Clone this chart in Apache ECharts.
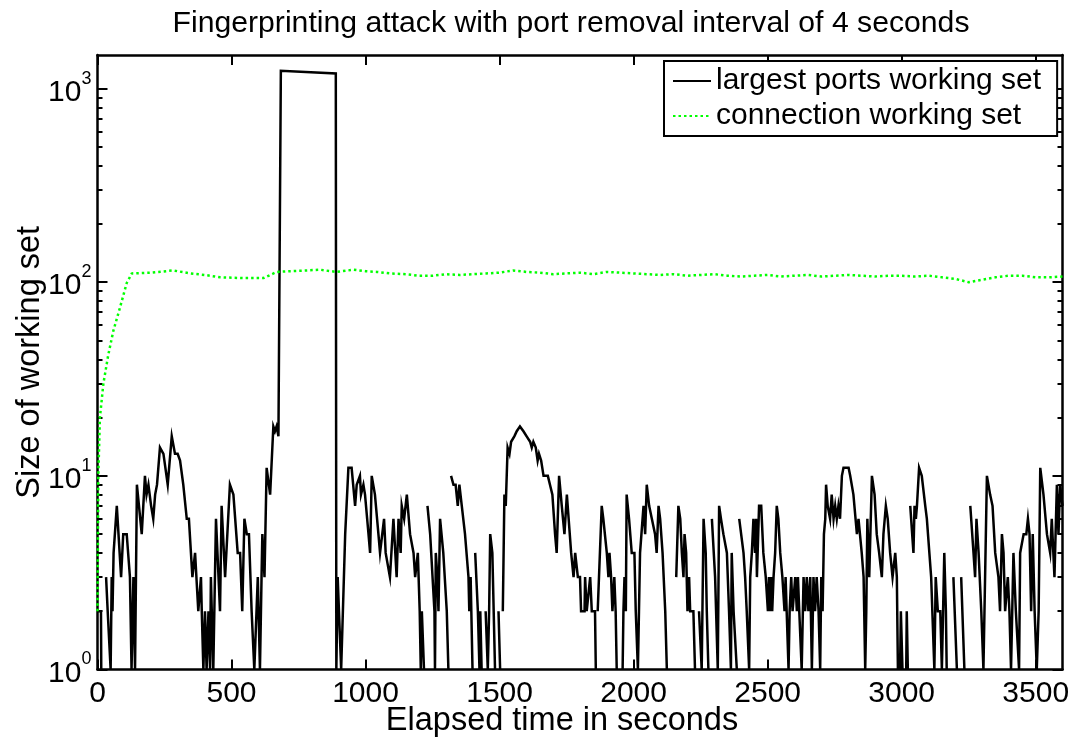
<!DOCTYPE html>
<html>
<head>
<meta charset="utf-8">
<script src="https://cdn.jsdelivr.net/npm/echarts@6/dist/echarts.min.js"></script>
<style>
  html, body { margin: 0; padding: 0; background: #fff; }
  #chart { width: 1076px; height: 742px; }
</style>
</head>
<body>
<div id="chart"></div>
<script>
// Working-set sizes over one hour of a fingerprinting attack (4 s port removal).
const FONT = '"Liberation Sans", Arial, Helvetica, sans-serif';

const titleText = 'Fingerprinting attack with port removal interval of 4 seconds';
const xName = 'Elapsed time in seconds';
const yName = 'Size of working set';
const seriesNames = ['largest ports working set', 'connection working set'];

// x ticks (seconds) and y decades
const xTicks = [0, 500, 1000, 1500, 2000, 2500, 3000, 3500];
const yDecades = [1, 10, 100, 1000];
const yMinor = [2, 3, 4, 5, 6, 7, 8, 9, 20, 30, 40, 50, 60, 70, 80, 90, 200, 300, 400, 500, 600, 700, 800, 900];

// largest ports working set: sample times (s) and sizes (0 = empty set)
const portsTime = [
  0, 13, 14, 17, 32, 38, 45, 49, 53, 56, 60, 72, 88, 96, 109, 121, 127, 134, 140, 147,
  165, 177, 183, 190, 200, 208, 215, 222, 233, 246, 262, 277, 289, 299, 308, 320, 333, 341, 354, 364,
  376, 386, 389, 395, 401, 407, 414, 420, 423, 432, 442, 457, 463, 476, 482, 494, 507, 523, 532, 540,
  548, 557, 565, 575, 585, 598, 606, 612, 615, 619, 623, 631, 644, 656, 662, 668, 675, 680, 684, 889,
  891, 896, 901, 909, 914, 924, 930, 936, 948, 961, 967, 979, 983, 992, 998, 1011, 1017, 1023, 1035, 1048,
  1054, 1060, 1069, 1075, 1091, 1104, 1116, 1123, 1131, 1135, 1144, 1154, 1166, 1179, 1185, 1195, 1202, 1206, 1210, 1215,
  1218, 1222, 1231, 1241, 1257, 1259, 1262, 1268, 1272, 1278, 1290, 1303, 1309, 1313, 1319, 1328, 1336, 1344, 1350, 1359,
  1371, 1384, 1387, 1392, 1399, 1403, 1409, 1419, 1425, 1428, 1433, 1440, 1448, 1456, 1461, 1465, 1473, 1483, 1489, 1496,
  1502, 1507, 1512, 1518, 1523, 1530, 1537, 1543, 1548, 1555, 1564, 1576, 1589, 1601, 1614, 1620, 1626, 1635, 1642, 1647,
  1655, 1664, 1672, 1680, 1688, 1697, 1707, 1713, 1722, 1732, 1742, 1751, 1757, 1767, 1776, 1782, 1788, 1792, 1800, 1804,
  1817, 1819, 1825, 1831, 1838, 1844, 1856, 1859, 1863, 1866, 1881, 1887, 1894, 1900, 1906, 1910, 1916, 1921, 1928, 1933,
  1937, 1941, 1959, 1962, 1966, 1971, 1974, 1983, 1993, 2003, 2008, 2016, 2020, 2024, 2030, 2037, 2043, 2049, 2058, 2068,
  2074, 2080, 2086, 2093, 2099, 2108, 2118, 2124, 2128, 2159, 2167, 2174, 2180, 2186, 2190, 2196, 2201, 2207, 2211, 2223,
  2229, 2234, 2244, 2251, 2254, 2261, 2269, 2273, 2279, 2285, 2292, 2304, 2314, 2319, 2326, 2335, 2348, 2356, 2363, 2366,
  2373, 2379, 2385, 2389, 2394, 2410, 2416, 2422, 2428, 2431, 2435, 2441, 2447, 2453, 2457, 2460, 2466, 2468, 2476, 2484,
  2493, 2501, 2505, 2509, 2513, 2517, 2522, 2528, 2534, 2540, 2547, 2555, 2563, 2567, 2571, 2578, 2582, 2588, 2593, 2598,
  2603, 2609, 2613, 2618, 2627, 2634, 2640, 2646, 2652, 2659, 2665, 2671, 2677, 2683, 2690, 2696, 2700, 2705, 2710, 2715,
  2718, 2724, 2733, 2739, 2746, 2752, 2758, 2764, 2770, 2777, 2783, 2789, 2802, 2808, 2820, 2833, 2839, 2851, 2858, 2864,
  2868, 2872, 2879, 2889, 2899, 2907, 2916, 2926, 2932, 2941, 2948, 2957, 2966, 2976, 2982, 2986, 2990, 2994, 2997, 3003,
  3007, 3017, 3019, 3023, 3027, 3032, 3044, 3048, 3053, 3057, 3065, 3075, 3088, 3094, 3100, 3110, 3115, 3122, 3127, 3135,
  3144, 3150, 3159, 3165, 3168, 3172, 3193, 3206, 3210, 3222, 3234, 3238, 3256, 3268, 3274, 3279, 3287, 3297, 3305, 3312,
  3318, 3330, 3339, 3349, 3355, 3361, 3367, 3374, 3380, 3386, 3396, 3402, 3408, 3417, 3426, 3433, 3438, 3442, 3449, 3455,
  3465, 3471, 3477, 3483, 3489, 3496, 3504, 3511, 3517, 3529, 3542, 3548, 3554, 3560, 3570, 3579, 3585, 3591, 3600
];
const portsSize = [
  2, 2, 1, 0, 3, 2, 2, 1, 3, 2, 4, 7, 3, 5, 5, 3, 1, 3, 1, 9,
  5, 10, 8, 9, 7, 6, 8, 9, 14, 13, 9, 16, 13, 13, 12, 9, 6, 6, 3, 4,
  2, 3, 2, 1, 2, 1, 2, 1, 3, 1, 6, 2, 7, 3, 3, 9, 8, 4, 4, 2,
  6, 5, 5, 2, 1, 3, 1, 3, 5, 5, 3, 11, 8, 18, 17, 18, 16, 16, 1234, 1197,
  1, 3, 3, 1, 1, 5, 5, 11, 11, 7, 9, 10, 8, 9, 8, 5, 4, 10, 8, 5,
  4, 4, 6, 4, 3, 6, 3, 6, 4, 7, 6, 8, 5, 4, 3, 4, 2, 1, 2, 2,
  1, 0, 7, 5, 2, 1, 4, 3, 2, 6, 4, 2, 1, 0, 10, 9, 9, 7, 9, 7,
  5, 3, 2, 3, 1, 0, 4, 2, 1, 2, 1, 0, 2, 1, 2, 5, 4, 1, 0, 2,
  1, 0, 2, 8, 7, 14, 13, 15, 15, 16, 17, 18, 17, 16, 15, 14, 15, 14, 12, 13,
  12, 10, 10, 10, 9, 8, 5, 4, 10, 7, 5, 8, 8, 4, 3, 4, 4, 3, 3, 2,
  2, 3, 2, 2, 3, 2, 2, 1, 0, 2, 7, 6, 6, 4, 3, 4, 3, 2, 3, 2,
  1, 0, 1, 2, 3, 2, 8, 6, 4, 4, 2, 1, 2, 4, 4, 7, 5, 9, 7, 6,
  6, 5, 4, 7, 6, 4, 2, 1, 0, 3, 7, 6, 4, 3, 5, 4, 2, 3, 2, 2,
  1, 0, 2, 2, 1, 6, 4, 2, 1, 0, 6, 3, 1, 7, 6, 5, 4, 2, 1, 4,
  2, 2, 1, 0, 6, 4, 3, 2, 2, 1, 3, 4, 6, 4, 6, 3, 3, 7, 7, 4,
  3, 2, 3, 2, 3, 2, 3, 4, 7, 6, 4, 3, 2, 3, 2, 1, 2, 3, 2, 2,
  3, 2, 3, 2, 1, 3, 2, 3, 2, 3, 1, 3, 2, 3, 2, 1, 3, 2, 5, 6,
  9, 7, 6, 8, 6, 7, 6, 7, 6, 10, 11, 11, 11, 10, 8, 5, 6, 4, 3, 1,
  2, 6, 3, 10, 8, 5, 4, 3, 5, 7, 6, 4, 3, 4, 3, 1, 0, 1, 2, 1,
  0, 1, 2, 1, 0, 7, 4, 7, 6, 7, 11, 10, 7, 6, 6, 3, 3, 1, 3, 2,
  2, 1, 4, 2, 1, 0, 3, 1, 0, 3, 1, 0, 7, 4, 3, 6, 4, 2, 1, 1,
  10, 8, 7, 4, 4, 3, 2, 5, 4, 2, 3, 2, 1, 4, 2, 2, 1, 4, 4, 5,
  5, 6, 5, 2, 5, 2, 1, 2, 11, 8, 5, 5, 4, 6, 3, 9, 5, 9, 7
];

// connection working set: sample times (s) and sizes
const connTime = [
  0, 3, 9, 22, 40, 59, 84, 109, 128, 134, 200, 283, 345, 400, 457, 544, 600, 619, 669, 720,
  780, 830, 870, 892, 955, 1000, 1042, 1091, 1150, 1200, 1250, 1300, 1350, 1400, 1450, 1500, 1550, 1600, 1650, 1700,
  1750, 1800, 1850, 1900, 1950, 2000, 2050, 2100, 2150, 2200, 2250, 2300, 2350, 2400, 2450, 2500, 2550, 2600, 2650, 2700,
  2750, 2800, 2850, 2900, 2950, 3000, 3050, 3100, 3150, 3200, 3250, 3300, 3350, 3400, 3450, 3500, 3550, 3600
];
const connSize = [
  2, 10, 20, 30, 42, 56, 74, 99, 111, 111, 112, 115, 111, 109, 106, 105, 105, 105, 113, 114,
  115, 116, 114, 113, 116, 114, 113, 111, 110, 108, 108, 110, 109, 110, 111, 112, 115, 113, 112, 110,
  111, 112, 110, 113, 112, 111, 110, 109, 110, 108, 109, 110, 108, 107, 108, 109, 107, 108, 109, 107,
  108, 109, 108, 107, 108, 108, 107, 108, 106, 104, 100, 103, 106, 108, 108, 106, 106, 107
];

// zero sizes cannot sit on a log axis: they become breaks in the line
const portsData = portsTime.map((t, i) => [t, portsSize[i] > 0 ? portsSize[i] : null]);
const connData = connTime.map((t, i) => [t, connSize[i]]);

const Y_MIN = 1, Y_MAX = 1490, X_MIN = 0, X_MAX = 3600;
const axisLineStyle = { color: '#000', width: 2.5 };
const tickStyle = { color: '#000', width: 2 };

function logAxis(position, opts) {
  return Object.assign({
    type: 'log',
    logBase: 10,
    min: Y_MIN,
    max: Y_MAX,
    position: position,
    offset: 0,
    splitLine: { show: false },
    axisLine: { show: false, onZero: false },
    axisTick: { show: false },
    axisLabel: { show: false }
  }, opts);
}

const chart = echarts.init(document.getElementById('chart'), null, { renderer: 'canvas' });

chart.setOption({
  animation: false,
  backgroundColor: '#fff',
  textStyle: { fontFamily: FONT, color: '#000' },
  title: {
    text: titleText,
    left: 566,
    textAlign: 'center',
    top: 4,
    textStyle: { fontFamily: FONT, fontSize: 30.2, fontWeight: 'normal', color: '#000' }
  },
  grid: {
    left: 97.5, right: 13.5, top: 55, bottom: 72.5,
    containLabel: false,
    outerBoundsMode: 'none'
  },
  legend: {
    orient: 'vertical',
    left: 664,
    top: 61,
    padding: [5, 16, 5, 8],
    itemGap: 5,
    itemWidth: 38,
    itemHeight: 30,
    backgroundColor: '#fff',
    borderColor: '#000',
    borderWidth: 2,
    borderRadius: 0,
    itemStyle: { opacity: 0 },
    textStyle: { fontFamily: FONT, fontSize: 30, color: '#000', padding: [0, 0, 0, 0] },
    data: seriesNames
  },
  xAxis: [
    {
      type: 'value',
      min: X_MIN,
      max: X_MAX,
      position: 'bottom',
      name: xName,
      nameLocation: 'middle',
      nameGap: 35,
      nameMoveOverlap: false,
      nameTextStyle: { fontFamily: FONT, fontSize: 32.5, color: '#000', padding: [0, 36, 0, 0] },
      axisLine: { show: true, onZero: false, lineStyle: axisLineStyle },
      axisTick: { show: true, inside: true, length: 10, lineStyle: tickStyle, customValues: xTicks },
      axisLabel: {
        show: true, customValues: xTicks, fontFamily: FONT, fontSize: 30, color: '#000', margin: 9,
        formatter: function (v) { return String(v); }
      },
      splitLine: { show: false }
    },
    {
      type: 'value',
      min: X_MIN,
      max: X_MAX,
      position: 'top',
      axisLine: { show: true, onZero: false, lineStyle: axisLineStyle },
      axisTick: { show: true, inside: true, length: 10, lineStyle: tickStyle, customValues: xTicks },
      axisLabel: { show: false },
      splitLine: { show: false }
    }
  ],
  yAxis: [
    logAxis('left', {
      name: yName,
      nameLocation: 'middle',
      nameGap: 50.5,
      nameMoveOverlap: false,
      nameTextStyle: { fontFamily: FONT, fontSize: 32.5, color: '#000' },
      axisLine: { show: true, onZero: false, lineStyle: axisLineStyle },
      axisTick: { show: true, inside: true, length: 10, lineStyle: tickStyle, customValues: yDecades },
      axisLabel: {
        show: true,
        customValues: yDecades,
        margin: 6,
        formatter: function (v) {
          return '{b|10}{s|' + Math.round(Math.log10(v)) + '}';
        },
        rich: {
          b: { fontFamily: FONT, fontSize: 30, lineHeight: 38, color: '#000', verticalAlign: 'bottom' },
          s: { fontFamily: FONT, fontSize: 18, lineHeight: 20, color: '#000', verticalAlign: 'top' }
        }
      }
    }),
    logAxis('left', {
      axisTick: { show: true, inside: true, length: 5, lineStyle: tickStyle, customValues: yMinor }
    }),
    logAxis('right', {
      axisLine: { show: true, onZero: false, lineStyle: axisLineStyle },
      axisTick: { show: true, inside: true, length: 10, lineStyle: tickStyle, customValues: yDecades }
    }),
    logAxis('right', {
      axisTick: { show: true, inside: true, length: 5, lineStyle: tickStyle, customValues: yMinor }
    })
  ],
  series: [
    {
      name: seriesNames[0],
      type: 'line',
      xAxisIndex: 0,
      yAxisIndex: 0,
      data: portsData,
      symbol: 'none',
      connectNulls: false,
      lineStyle: { color: '#000', width: 2.5, join: 'miter' },
      itemStyle: { color: '#000' },
      z: 3
    },
    {
      name: seriesNames[1],
      type: 'line',
      xAxisIndex: 0,
      yAxisIndex: 0,
      data: connData,
      symbol: 'none',
      lineStyle: { color: '#00ff00', width: 2.5, type: [2.5, 3] },
      itemStyle: { color: '#00ff00' },
      z: 4
    }
  ]
});
</script>
</body>
</html>
